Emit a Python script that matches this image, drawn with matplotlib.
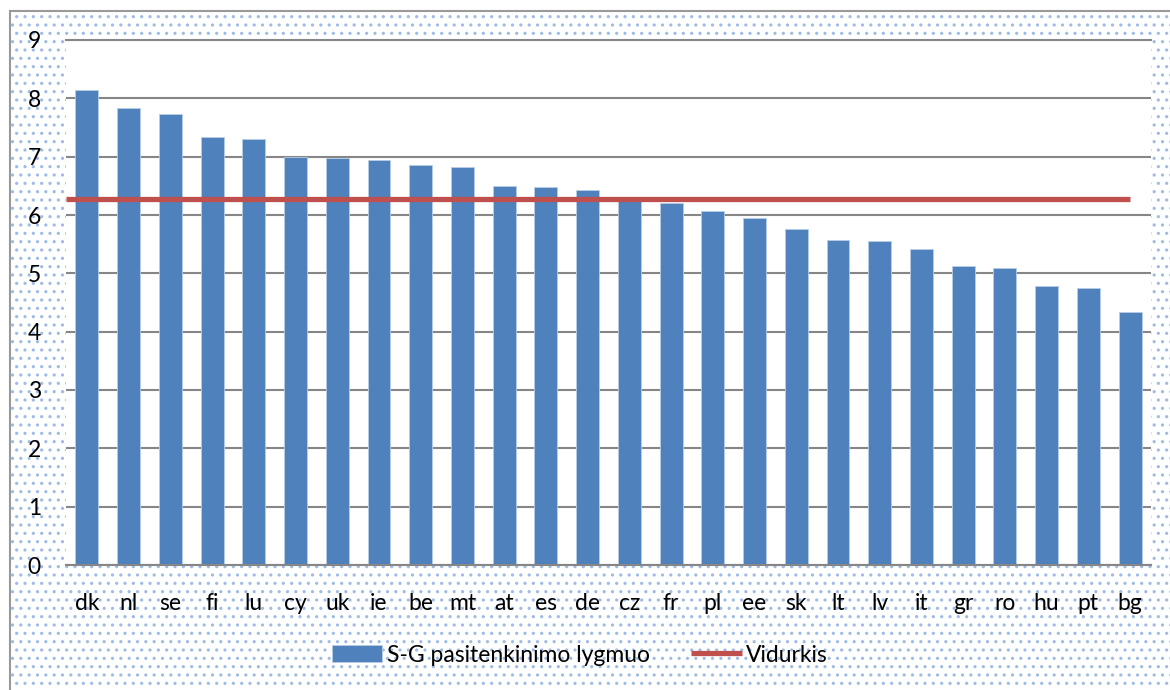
import matplotlib.pyplot as plt
from matplotlib.patches import Rectangle

plt.rcParams['font.family'] = ['Lato', 'DejaVu Sans']
plt.rcParams['hatch.linewidth'] = 1.1

countries = ['dk', 'nl', 'se', 'fi', 'lu', 'cy', 'uk', 'ie', 'be', 'mt', 'at', 'es', 'de',
             'cz', 'fr', 'pl', 'ee', 'sk', 'lt', 'lv', 'it', 'gr', 'ro', 'hu', 'pt', 'bg']
satisfaction = [8.15, 7.84, 7.74, 7.34, 7.31, 7.00, 6.98, 6.95, 6.86, 6.83, 6.50, 6.48, 6.43,
                6.27, 6.21, 6.07, 5.95, 5.76, 5.57, 5.56, 5.42, 5.13, 5.09, 4.79, 4.75, 4.34]
average = 6.28
yticks = [0, 1, 2, 3, 4, 5, 6, 7, 8, 9]

bar_color = '#4f81bd'
line_color = '#c0504d'
grid_color = '#868686'

fig = plt.figure(figsize=(11.7, 6.9), dpi=100)

# dotted chart-area background with grey frame
bg = Rectangle((10 / 1170, -0.02), 1.0, 1 - 11 / 690 + 0.02, transform=fig.transFigure,
               facecolor='white', edgecolor='#9dbbe3', linewidth=0, hatch='..', zorder=-2)
fig.add_artist(bg)
frame = Rectangle((10 / 1170, -0.02), 1.0, 1 - 11 / 690 + 0.02, transform=fig.transFigure,
                  facecolor='none', edgecolor='#999999', linewidth=1.5, zorder=-1)
fig.add_artist(frame)

ax = fig.add_axes([66 / 1170, 1 - 565 / 690, (1151 - 66) / 1170, (565 - 40) / 690])
ax.set_facecolor('white')

x = list(range(len(countries)))
bars = ax.bar(x, satisfaction, width=0.55, color=bar_color, edgecolor='#b9cde5', linewidth=0.6,
              label='S-G pasitenkinimo lygmuo', zorder=2)
avg = ax.hlines(average, -0.5, len(countries) - 1, color=line_color, linewidth=3.8,
                label='Vidurkis', zorder=3)

ax.set_xlim(-0.5, len(countries) - 0.5)
ax.set_ylim(0, 9)
ax.set_yticks(yticks)
ax.set_xticks(x)
ax.set_xticklabels(countries)
ax.tick_params(axis='both', length=0, labelsize=16.5)
ax.tick_params(axis='y', pad=18)
ax.tick_params(axis='x', pad=20)

ax.grid(axis='y', color=grid_color, linewidth=1.5, zorder=1)
ax.set_axisbelow(True)
for side in ['left', 'right']:
    ax.spines[side].set_visible(False)
for side in ['top', 'bottom']:
    ax.spines[side].set_color(grid_color)
    ax.spines[side].set_linewidth(1.5)

fig.legend([bars, avg], ['S-G pasitenkinimo lygmuo', 'Vidurkis'], loc='center',
           bbox_to_anchor=(580 / 1170, 1 - 655 / 690), ncol=2, frameon=False,
           fontsize=16.5, handlelength=2.2, handletextpad=0.2, columnspacing=1.8)

fig.savefig('out.png', dpi=100)
